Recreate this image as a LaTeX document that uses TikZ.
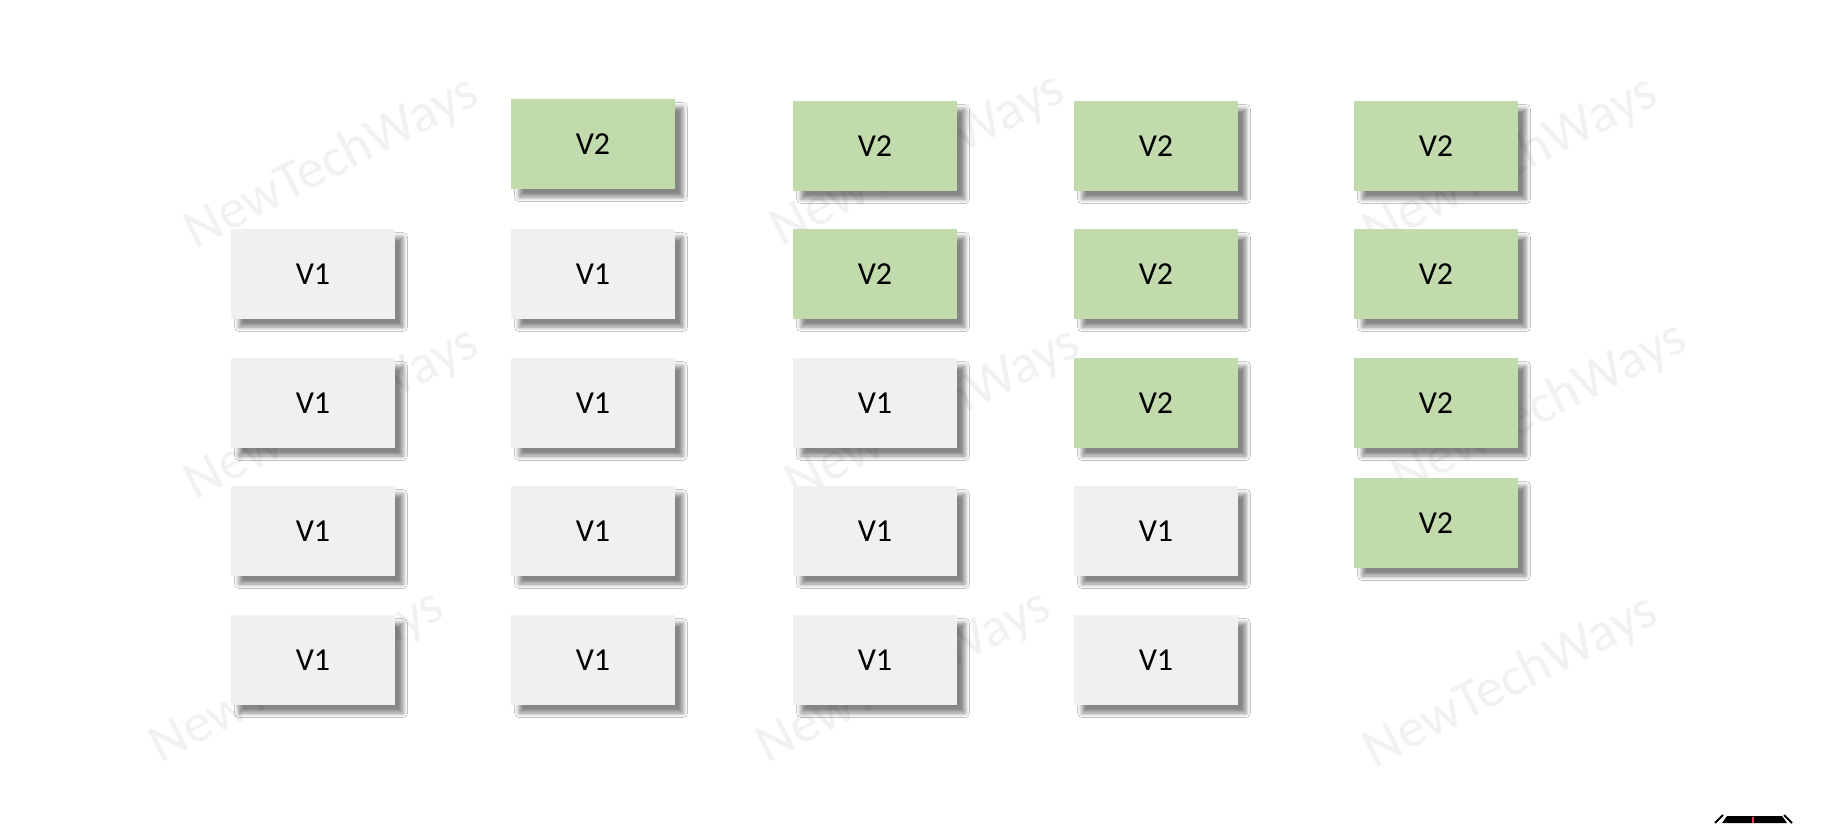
\documentclass[tikz,border=0pt]{standalone}
\usepackage{fontspec}
\setmainfont{Carlito}
\usetikzlibrary{shadows.blur}
\definecolor{vone}{HTML}{F0EFF1}
\definecolor{vtwo}{HTML}{C1DBAD}
\definecolor{wmark}{HTML}{F1F1F4}
\definecolor{logopink}{HTML}{E0405A}
\tikzset{
  box/.style={minimum width=164pt, minimum height=90pt, inner sep=0pt, font=\fontsize{32}{36}\selectfont,
    blur shadow={shadow xshift=8pt, shadow yshift=-8pt, shadow blur radius=4.5pt, shadow opacity=48}},
  vonebox/.style={box, fill=vone},
  vtwobox/.style={box, fill=vtwo},
  wm/.style={text=wmark, rotate=27, font=\fontsize{55}{60}\selectfont}
}
\begin{document}
\begin{tikzpicture}[x=1pt,y=-1pt]
\useasboundingbox (0,0) rectangle (1829,823);
\fill[white] (0,0) rectangle (1829,823);
% watermarks
\node[wm] (w1) at (332,163) {NewTechWays};
\node[wm] (w2) at (332,414) {NewTechWays};
\node[wm] (w3) at (297,677) {NewTechWays};
\node[wm] (w4) at (918,160) {NewTechWays};
\node[wm] (w5) at (933,414) {NewTechWays};
\node[wm] (w6) at (904,677) {NewTechWays};
\node[wm] (w7) at (1511,163) {NewTechWays};
\node[wm] (w8) at (1540,409) {NewTechWays};
\node[wm] (w9) at (1511,682) {NewTechWays};
% column 1
\node[vonebox] (a1) at (313,274) {V1};
\node[vonebox] (a2) at (313,403) {V1};
\node[vonebox] (a3) at (313,531) {V1};
\node[vonebox] (a4) at (313,660) {V1};
% column 2
\node[vtwobox] (b0) at (593,144) {V2};
\node[vonebox] (b1) at (593,274) {V1};
\node[vonebox] (b2) at (593,403) {V1};
\node[vonebox] (b3) at (593,531) {V1};
\node[vonebox] (b4) at (593,660) {V1};
% column 3
\node[vtwobox] (c0) at (875,146) {V2};
\node[vtwobox] (c1) at (875,274) {V2};
\node[vonebox] (c2) at (875,403) {V1};
\node[vonebox] (c3) at (875,531) {V1};
\node[vonebox] (c4) at (875,660) {V1};
% column 4
\node[vtwobox] (d0) at (1156,146) {V2};
\node[vtwobox] (d1) at (1156,274) {V2};
\node[vtwobox] (d2) at (1156,403) {V2};
\node[vonebox] (d3) at (1156,531) {V1};
\node[vonebox] (d4) at (1156,660) {V1};
% column 5
\node[vtwobox] (e0) at (1436,146) {V2};
\node[vtwobox] (e1) at (1436,274) {V2};
\node[vtwobox] (e2) at (1436,403) {V2};
\node[vtwobox] (e3) at (1436,523) {V2};
% partial logo at bottom right
\fill[black] (1722,823) -- (1727,816) -- (1782,816) -- (1787,823) -- cycle;
\draw[black, line width=2pt] (1715,823) -- (1723,815);
\draw[black, line width=2pt] (1784,815) -- (1792,823);
\draw[logopink, line width=2pt] (1753,817) -- (1753,823);
\end{tikzpicture}
\end{document}
